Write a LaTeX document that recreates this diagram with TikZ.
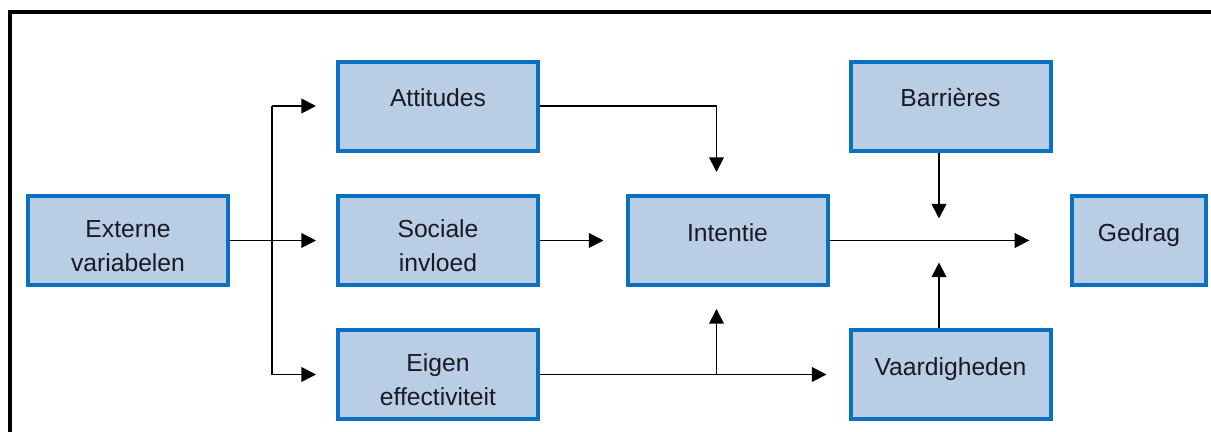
\documentclass[tikz,border=0pt]{standalone}
\usepackage{fontspec}
\setmainfont{Liberation Sans}
\usetikzlibrary{arrows.meta}
\definecolor{boxfill}{HTML}{B9CDE5}
\definecolor{boxdraw}{HTML}{0A70C2}
\definecolor{txt}{HTML}{1A1A24}
\newcommand\mytopstrut{\rule{0pt}{21pt}}
\begin{document}
\begin{tikzpicture}[x=0.75pt,y=-0.75pt,
  box/.style={draw=boxdraw, fill=boxfill, line width=3pt, rectangle,
    minimum width=150pt, minimum height=66.75pt, inner sep=0pt,
    text=txt, font=\fontsize{18.5pt}{25.5pt}\selectfont},
  oneline/.style={text height=15pt, text depth=14.25pt},
  twoline/.style={align=center},
  conn/.style={line width=1.4pt, black},
  arr/.style={conn, -{Triangle[length=11pt,width=11pt]}},
  gapA/.style={shorten >=15pt},
  gapB/.style={shorten >=16.5pt},
]
\useasboundingbox (0,0) rectangle (1211,432);
% frame
\draw[line width=3.2pt, black] (1211,12) -- (10,12) -- (10,432);
% boxes
\node[box, twoline] (ext) at (128,240.5) {\mytopstrut Externe\\variabelen};
\node[box, oneline] (att) at (438,106) {Attitudes};
\node[box, twoline] (soc) at (438,240.5) {\mytopstrut Sociale\\invloed};
\node[box, twoline] (eig) at (438,374.5) {\mytopstrut Eigen\\effectiviteit};
\node[box, oneline] (int) at (727.5,240.5) {Intentie};
\node[box, oneline] (bar) at (950.5,106) {Barrières};
\node[box, oneline] (vaa) at (950.5,374.5) {Vaardigheden};
\node[box, oneline, minimum width=100.5pt] (ged) at (1139,240.5) {Gedrag};
% helper coordinates
\coordinate (busT) at (272,106);
\coordinate (busB) at (272,374.5);
\coordinate (jx) at (716.5,374.5);
\coordinate (mid) at (939,240.5);
% connectors
\draw[arr, gapA] (ext.east) -- (soc.west);
\draw[conn] (busT) -- (busB);
\draw[arr, gapA] (busT) -- (att.west);
\draw[arr, gapA] (busB) -- (eig.west);
\draw[arr, gapB] (soc.east) -- (int.west);
\draw[arr, gapB] (att.east) -| (jx |- int.north);
\draw[arr, gapB] (eig.east) -- (vaa.west);
\draw[arr, gapB] (jx) -- (jx |- int.south);
\draw[arr, shorten >=30.5pt] (int.east) -- (ged.west);
\draw[arr, gapB] (mid |- bar.south) -- (mid);
\draw[arr, gapB] (mid |- vaa.north) -- (mid);
\end{tikzpicture}
\end{document}
